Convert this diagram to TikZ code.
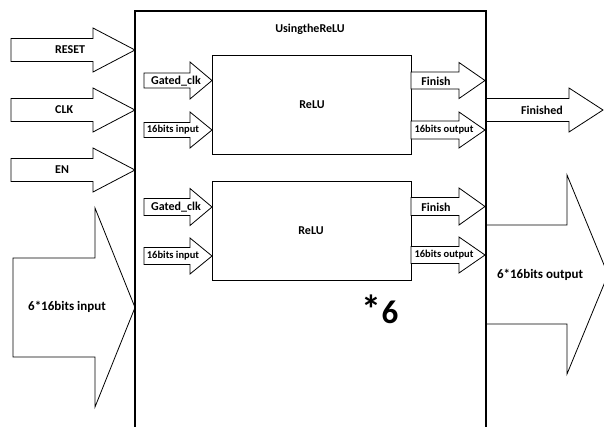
\documentclass[tikz,border=0pt]{standalone}
\usepackage{fontspec}
\setmainfont{Carlito}
\begin{document}
\begin{tikzpicture}[x=1pt,y=-1pt,
		lbl/.style={font=\bfseries\fontsize{12}{14}\selectfont, inner sep=0pt},
		small/.style={font=\bfseries\fontsize{10.5}{12}\selectfont, inner sep=0pt},
		big/.style={font=\bfseries\fontsize{13}{15}\selectfont, inner sep=0pt},
		outline/.style={draw=black, line width=0.8pt, fill=white, line join=miter}]
			\newcommand{\blockarrow}[7]{
				\draw[outline] (#2,#5-#6) -- (#3,#5-#6) -- (#3,#5-#7) -- (#4,#5) -- (#3,#5+#7) -- (#3,#5+#6) -- (#2,#5+#6) -- cycle;
				\coordinate (#1) at (#4,#5);
			}%Page frame
			\useasboundingbox (0,0) rectangle (604,426);
			\clip (0,0) rectangle (604,426);
			%Inputs on the left
			\blockarrow{reset}{11}{93}{135}{50}{11.5}{22}
			\blockarrow{clk}{11}{93}{135}{110}{11.5}{22}
			\blockarrow{en}{11}{93}{135}{170}{11.5}{22}
			\blockarrow{datain}{13}{95}{135}{307.5}{49.5}{99.5}
			\node [lbl, anchor=west] (resetlbl) at (55,50) {RESET};
			\node [lbl, anchor=west] (clklbl) at (55,110) {CLK};
			\node [lbl, anchor=west] (enlbl) at (55,170) {EN};
			\node [big] (datainlbl) at (67,307) {6*16bits input};
			%The two ReLU blocks
			\draw [outline] (212,55) rectangle (411,154);
			\draw [outline] (212,181) rectangle (411,280);
			\node [lbl] (title) at (310,29) {UsingtheReLU};
			\node [lbl] (relu1) at (312,105) {ReLU};
			\node [lbl] (relu2) at (311,231) {ReLU};
			%ReLU block 1
			\blockarrow{gclk1}{144}{190}{212}{80.5}{7.5}{18.5}
			\blockarrow{in1}{144}{190}{212}{130}{7.5}{18}
			\blockarrow{fin1}{411}{459}{485}{80.5}{8.5}{18}
			\blockarrow{out1}{411}{459}{485}{130}{9}{18}
			\node [lbl] (gclk1lbl) at (176,81) {Gated\_clk};
			\node [small] (in1lbl) at (173,130) {16bits input};
			\node [lbl] (fin1lbl) at (436,81) {Finish};
			\node [small] (out1lbl) at (444,130) {16bits output};
			%ReLU block 2
			\blockarrow{gclk2}{144}{190}{212}{207}{8.5}{18.5}
			\blockarrow{in2}{144}{190}{212}{256}{8.5}{18}
			\blockarrow{fin2}{411}{459}{485}{206.5}{9}{18.5}
			\blockarrow{out2}{411}{459}{485}{255}{8.5}{18}
			\node [lbl] (gclk2lbl) at (176,207) {Gated\_clk};
			\node [small] (in2lbl) at (173,256) {16bits input};
			\node [lbl] (fin2lbl) at (436,207) {Finish};
			\node [small] (out2lbl) at (444,255) {16bits output};
			%Outputs on the right
			\blockarrow{finished}{486}{569}{603}{110}{11.5}{22}
			\blockarrow{dataout}{486}{567}{608}{274.5}{49.5}{99.5}
			\node [lbl] (finishedlbl) at (542,110) {Finished};
			\node [big] (dataoutlbl) at (540,275) {6*16bits output};
			%Repeat count
			\node [font=\bfseries\fontsize{33}{36}\selectfont, inner sep=0pt] (times) at (380,309) {{\fontsize{40}{40}\selectfont*}6};
			%Outer block
			\draw [line width=2pt] (135,11) rectangle (486,440);
\end{tikzpicture}
\end{document}
